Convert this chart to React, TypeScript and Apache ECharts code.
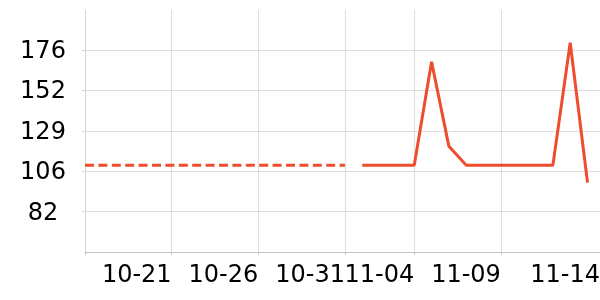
import React, { useEffect, useRef } from "react";
import * as echarts from "echarts";

const YEAR = 2024;
const START = "10-16";

const historyDates = ["10-16", "10-17", "10-18", "10-19", "10-20", "10-21", "10-22", "10-23", "10-24", "10-25", "10-26", "10-27", "10-28", "10-29", "10-30", "10-31"];
const historyValues = [109, 109, 109, 109, 109, 109, 109, 109, 109, 109, 109, 109, 109, 109, 109, 109];

const recentDates = ["11-01", "11-02", "11-03", "11-04", "11-05", "11-06", "11-07", "11-08", "11-09", "11-10", "11-11", "11-12", "11-13", "11-14"];
const recentValues = [109, 109, 109, 109, 169, 120, 109, 109, 109, 109, 109, 109, 180, 99];

const xTickDates = ["10-16", "10-21", "10-26", "10-31", "11-04", "11-09"];
const xLabelDates = ["10-21", "10-26", "10-31", "11-04", "11-09", "11-14"];
const yTickValues = [82.2, 105.6, 129.0, 152.4, 175.8];

const Y_MIN = 58.8;
const Y_MAX = 199;
const X_END_PAD = 0.72;

const DAY = 86400000;
const toMs = (md: string) => {
  const [m, d] = md.split("-").map(Number);
  return Date.UTC(YEAR, m - 1, d);
};
const dayOf = (md: string) => (toMs(md) - toMs(START)) / DAY;
const fmtDay = (v: number) => {
  const dt = new Date(toMs(START) + Math.floor(v + 1e-6) * DAY);
  const mm = String(dt.getUTCMonth() + 1).padStart(2, "0");
  const dd = String(dt.getUTCDate()).padStart(2, "0");
  return `${mm}-${dd}`;
};

export default function App() {
  const ref = useRef<HTMLDivElement>(null);
  useEffect(() => {
    if (!ref.current) return;
    const chart = echarts.init(ref.current, undefined, { renderer: "svg" });
    const xMax = dayOf(xLabelDates[xLabelDates.length - 1]) + X_END_PAD;
    const labelValues = xLabelDates.slice(0, -1).map(dayOf).concat([xMax]);
    const color = "#ee4d2d";
    chart.setOption({
      animation: false,
      textStyle: { fontFamily: "DejaVu Sans" },
      grid: { left: 85, right: 0, top: 10, bottom: 48, containLabel: false, outerBoundsMode: "none" },
      xAxis: {
        type: "value",
        min: 0,
        max: xMax,
        axisLine: { show: true, lineStyle: { color: "#c4c4c4", width: 1 } },
        axisTick: { show: true, length: 3, lineStyle: { color: "#c4c4c4" }, customValues: xTickDates.map(dayOf) },
        axisLabel: {
          customValues: labelValues,
          formatter: (v: number) => fmtDay(v),
          align: "right",
          fontSize: 24,
          color: "#000",
          margin: 10,
          fontFamily: "DejaVu Sans",
        },
        splitLine: { show: true, lineStyle: { color: "#dddddd", width: 1 } },
      },
      yAxis: {
        type: "value",
        min: Y_MIN,
        max: Y_MAX,
        axisLine: { show: true, lineStyle: { color: "#d6d6d6", width: 1 } },
        axisTick: { show: true, length: 3, lineStyle: { color: "#d6d6d6" }, customValues: yTickValues },
        axisLabel: {
          customValues: yTickValues,
          formatter: (v: number) => String(Math.round(v)),
          align: "center",
          fontSize: 24,
          color: "#000",
          margin: 42,
          fontFamily: "DejaVu Sans",
        },
        splitLine: { show: true, lineStyle: { color: "#dddddd", width: 1 } },
      },
      series: [
        {
          type: "line",
          data: historyDates.map((d, i) => [dayOf(d), historyValues[i]]),
          showSymbol: false,
          symbol: "none",
          lineStyle: { color, width: 3, type: [9, 4.4] },
          itemStyle: { color },
        },
        {
          type: "line",
          data: recentDates.map((d, i) => [dayOf(d), recentValues[i]]),
          showSymbol: false,
          symbol: "none",
          lineStyle: { color, width: 3, type: "solid" },
          itemStyle: { color },
        },
      ],
    });
    return () => chart.dispose();
  }, []);
  return <div ref={ref} style={{ position: "fixed", left: 0, top: 0, width: 600, height: 300 }} />;
}
